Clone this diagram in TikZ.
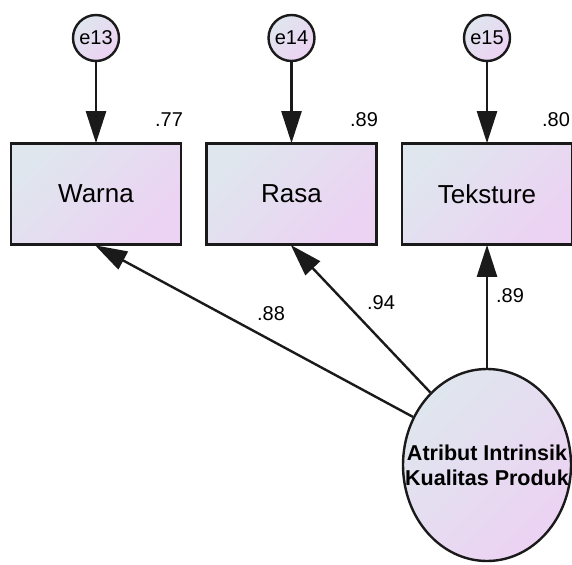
\documentclass[tikz,border=0pt]{standalone}
\usepackage{fontspec}
\setmainfont{Liberation Sans}
\usetikzlibrary{arrows.meta,shapes.geometric}
\definecolor{gA}{HTML}{DFE6EE}
\definecolor{gB}{HTML}{ECD2F3}
\definecolor{edgec}{HTML}{1A1A1A}
\begin{document}
\begin{tikzpicture}[x=1pt,y=-1pt,
  grad/.style={top color=gA, bottom color=gB, shading angle=45},
  obsbox/.style={draw=edgec, line width=2.6pt, grad, rectangle, minimum width=170pt, minimum height=101pt, inner sep=0pt, font=\fontsize{26}{30}\selectfont},
  errc/.style={draw=edgec, line width=2.4pt, grad, circle, minimum size=46pt, inner sep=0pt, font=\fontsize{20}{22}\selectfont},
  latent/.style={draw=edgec, line width=2.4pt, grad, ellipse, minimum width=168pt, minimum height=192pt, inner sep=0pt},
  lattext/.style={align=center, inner sep=0pt, font=\bfseries\fontsize{21.5}{25}\selectfont},
  arr/.style={-{Triangle[length=32pt,width=20pt]}, line width=2.4pt, draw=edgec, shorten >=-1pt},
  val/.style={font=\fontsize{20}{22}\selectfont, inner sep=0pt}]
\useasboundingbox (0,0) rectangle (572,564);
\node[errc] (e13) at (96,38) {e13};
\node[errc] (e14) at (291.5,38) {e14};
\node[errc] (e15) at (487,38) {e15};
\node[obsbox] (warna) at (96,194) {Warna};
\node[obsbox] (rasa) at (291.5,194) {Rasa};
\node[obsbox] (teks) at (487,194) {Teksture};
\node[latent] (lat) at (487,465) {};
\node[lattext] (latlabel) at (lat.center) {Atribut Intrinsik\\Kualitas Produk};
\draw[arr] (e13) -- (warna);
\draw[arr] (e14) -- (rasa);
\draw[arr] (e15) -- (teks);
\draw[arr] (lat.147) -- (warna.south);
\draw[arr] (lat.128) -- (rasa.south);
\draw[arr] (lat.north) -- (teks.south);
\node[val] (r1) at (169,120) {.77};
\node[val] (r2) at (364,120) {.89};
\node[val] (r3) at (556,120) {.80};
\node[val] (l1) at (271,314) {.88};
\node[val] (l2) at (381,303) {.94};
\node[val] (l3) at (510,296) {.89};
\end{tikzpicture}
\end{document}
